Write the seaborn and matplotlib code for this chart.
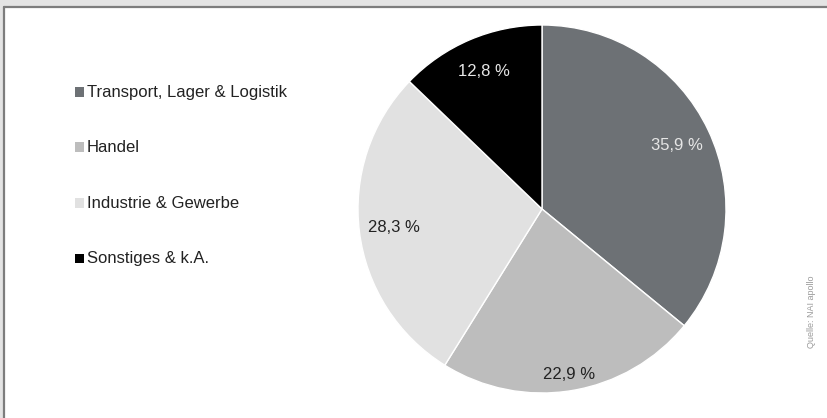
import matplotlib
matplotlib.use("Agg")
import matplotlib.pyplot as plt
import seaborn as sns
from matplotlib.patches import Rectangle
from matplotlib.lines import Line2D

sns.set_theme(style="white")
plt.rcParams['font.family'] = ['Liberation Sans', 'DejaVu Sans']

categories = ["Transport, Lager & Logistik", "Handel", "Industrie & Gewerbe", "Sonstiges & k.A."]
values = [35.9, 22.9, 28.3, 12.8]
value_labels = ["35,9 %", "22,9 %", "28,3 %", "12,8 %"]
colors = ["#6d7175", "#bdbdbd", "#e1e1e1", "#000000"]
label_colors = ["#e6e6e6", "#222222", "#222222", "#e6e6e6"]
source = "Quelle: NAI apollo"

W, H = 827, 418
fig = plt.figure(figsize=(W / 100, H / 100), dpi=100, facecolor="white")

# frame strips (top and left)
fig.patches.append(Rectangle((0, 1 - 6 / H), 1, 6 / H, transform=fig.transFigure,
                             facecolor="#e4e4e4", edgecolor="none", zorder=0))
fig.patches.append(Rectangle((0, 0), 3 / W, 1, transform=fig.transFigure,
                             facecolor="#e4e4e4", edgecolor="none", zorder=0))
fig.lines.append(Line2D([4 / W, 1], [1 - 7 / H, 1 - 7 / H], transform=fig.transFigure,
                        color="#7d7d7d", lw=1.6))
fig.lines.append(Line2D([4 / W, 4 / W], [0, 1 - 7 / H], transform=fig.transFigure,
                        color="#7d7d7d", lw=1.6))

# pie axes: center (542, 209), radius 184
r = 184
cx, cy = 542, 209
ax = fig.add_axes([(cx - r) / W, (H - cy - r) / H, 2 * r / W, 2 * r / H])
wedges, texts = ax.pie(values, colors=colors, startangle=90, counterclock=False,
                       labels=value_labels, labeldistance=0.81,
                       wedgeprops=dict(edgecolor="white", linewidth=1.0),
                       textprops=dict(fontsize=12))
for t, c in zip(texts, label_colors):
    t.set_color(c)
    t.set_ha("center")
    t.set_va("center")
# the bottom label sits further out
x, y = texts[1].get_position()
texts[1].set_position((x * 0.91 / 0.81, y * 0.91 / 0.81))
ax.set_xlim(-1, 1)
ax.set_ylim(-1, 1)
ax.set_aspect("equal")
ax.axis("off")

# legend
ys = [92, 147, 203, 258]
for cat, col, yy in zip(categories, colors, ys):
    fig.patches.append(Rectangle((75 / W, 1 - (yy + 4.5) / H), 9 / W, 9 / H,
                                 transform=fig.transFigure, facecolor=col,
                                 edgecolor="none"))
    fig.text(87 / W, 1 - yy / H, cat, fontsize=12, color="#222222",
             ha="left", va="center")

fig.text(812 / W, 1 - 312 / H, source, rotation=90, fontsize=6.5,
         color="#9a9a9a", ha="center", va="center")

fig.savefig("out.png", dpi=100, facecolor="white")
